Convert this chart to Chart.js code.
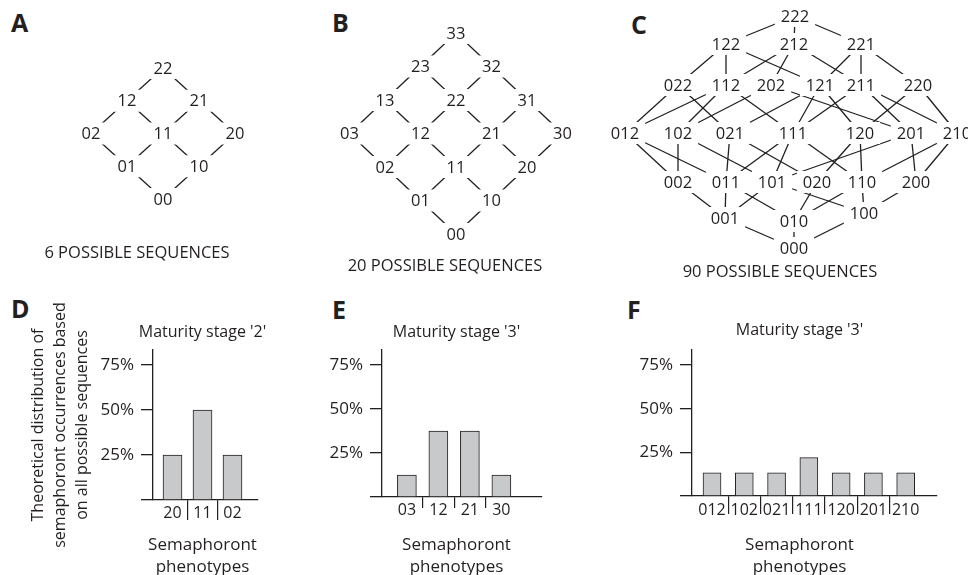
<!DOCTYPE html>
<html>
<head>
<meta charset="utf-8">
<title>Semaphoront sequences</title>
<script src="https://cdn.jsdelivr.net/npm/chart.js@4.4.1/dist/chart.umd.min.js"></script>
<style>
  html, body { margin: 0; padding: 0; background: #fff; }
  body { width: 968px; height: 575px; position: relative; overflow: hidden;
         font-family: 'Open Sans', sans-serif; color: #231f20; }
  canvas { position: absolute; }
  .tag { position: absolute; font: 700 25px 'Open Sans', sans-serif; line-height: 1; }
  .cap { position: absolute; font-size: 16.5px; line-height: 1; white-space: nowrap;
         transform: translate(-50%, -50%); }
</style>
</head>
<body>
<div class="tag" style="left:11px;top:10px">A</div>
<div class="tag" style="left:332px;top:10px">B</div>
<div class="tag" style="left:631px;top:12px">C</div>
<div class="tag" style="left:11px;top:296px">D</div>
<div class="tag" style="left:332px;top:297px">E</div>
<div class="tag" style="left:627px;top:297px">F</div>

<canvas id="latA" width="320" height="245" style="left:0;top:0"></canvas>
<canvas id="latB" width="280" height="250" style="left:320px;top:0"></canvas>
<canvas id="latC" width="368" height="262" style="left:600px;top:0"></canvas>

<div class="cap" style="left:137px;top:252px">6 POSSIBLE SEQUENCES</div>
<div class="cap" style="left:445px;top:265px">20 POSSIBLE SEQUENCES</div>
<div class="cap" style="left:780px;top:271px">90 POSSIBLE SEQUENCES</div>

<canvas id="barD" width="405" height="290" style="left:0;top:290px"></canvas>
<canvas id="barE" width="253" height="290" style="left:330px;top:290px"></canvas>
<canvas id="barF" width="359" height="290" style="left:620px;top:290px"></canvas>

<script>
const INK = '#231f20';
const BAR_FILL = '#c8c9cb';
const FONT = "'Open Sans', sans-serif";

// ---- lattice A: two characters, states 0..2 ----
const nodesA = ['00', '01', '10', '02', '11', '20', '12', '21', '22'];
const colA = [0, -1, 1, -2, 0, 2, -1, 1, 0];
const rowA = [0, 1, 1, 2, 2, 2, 3, 3, 4];
const edgesA = ['00-01', '00-10', '01-02', '01-11', '10-11', '10-20',
  '02-12', '11-12', '11-21', '20-21', '12-22', '21-22'];

// ---- lattice B: two characters, states 0..3 ----
const nodesB = ['00', '01', '10', '02', '11', '20', '03', '12', '21', '30',
  '13', '22', '31', '23', '32', '33'];
const colB = [0, -1, 1, -2, 0, 2, -3, -1, 1, 3, -2, 0, 2, -1, 1, 0];
const rowB = [0, 1, 1, 2, 2, 2, 3, 3, 3, 3, 4, 4, 4, 5, 5, 6];
const edgesB = ['00-01', '00-10', '01-02', '01-11', '10-11', '10-20',
  '02-03', '02-12', '11-12', '11-21', '20-21', '20-30',
  '03-13', '12-13', '12-22', '21-22', '21-31', '30-31',
  '13-23', '22-23', '22-32', '31-32', '23-33', '32-33'];

// ---- lattice C: three characters, states 0..2 (positions) ----
const nodesC = ['000', '001', '010', '100', '002', '011', '101', '020', '110', '200',
  '012', '102', '021', '111', '120', '201', '210',
  '022', '112', '202', '121', '211', '220', '122', '212', '221', '222'];
const xC = [0, -69, 0, 70, -116, -68, -22, 23, 68, 122,
  -169, -116, -64, -1, 66, 117, 163,
  -116, -68, -23, 26, 67, 124, -68, 0, 67, 1];
const yC = [0, 30, 27, 35, 66, 66, 66, 66, 66, 66,
  115, 115, 115, 115, 115, 115, 115,
  163, 163, 163, 163, 163, 163, 204, 204, 204, 232];
const edgesC = ['000-001', '000-010', '000-100',
  '001-002', '001-011', '001-101', '010-011', '010-020', '010-110', '100-101', '100-110', '100-200',
  '002-012', '002-102', '011-012', '011-021', '011-111', '101-102', '101-111', '101-201',
  '020-021', '020-120', '110-111', '110-120', '110-210', '200-201', '200-210',
  '012-022', '012-112', '102-112', '102-202', '021-022', '021-121', '111-112', '111-121',
  '111-211', '120-121', '120-220', '201-202', '201-211', '210-211', '210-220',
  '022-122', '112-122', '112-212', '202-212', '121-122', '121-221', '211-212', '211-221', '220-221',
  '122-222', '212-222', '221-222'];

// ---- bar charts ----
const yTicks = [0, 25, 50, 75];
const catsD = ['20', '11', '02'];
const valsD = [25, 50, 25];
const catsE = ['03', '12', '21', '30'];
const valsE = [12.5, 37.5, 37.5, 12.5];
const catsF = ['012', '102', '021', '111', '120', '201', '210'];
const valsF = [13.3, 13.3, 13.3, 22, 13.3, 13.3, 13.3];

Chart.defaults.font.family = FONT;
Chart.defaults.color = INK;

// white-boxed node names on top of the edges
const nodeLabels = {
  id: 'nodeLabels',
  afterDatasetsDraw(chart) {
    const idx = chart.data.datasets.findIndex(d => d.nodeLayer);
    const ds = chart.data.datasets[idx];
    const meta = chart.getDatasetMeta(idx);
    const ctx = chart.ctx;
    ctx.save();
    ctx.font = '16.5px ' + FONT;
    ctx.textAlign = 'center';
    ctx.textBaseline = 'middle';
    meta.data.forEach((pt, i) => {
      const name = ds.data[i].name;
      const w = ctx.measureText(name).width;
      ctx.fillStyle = '#fff';
      ctx.fillRect(pt.x - w / 2 - 6, pt.y - 11, w + 12, 22);
      ctx.fillStyle = INK;
      ctx.fillText(name, pt.x, pt.y + 1);
    });
    ctx.restore();
  }
};

function lattice(id, nodes, xs, ys, edges, frame) {
  const canvas = document.getElementById(id);
  const W = canvas.width, H = canvas.height;
  const pos = {};
  nodes.forEach((n, i) => { pos[n] = {x: xs[i], y: ys[i]}; });

  const datasets = edges.map(e => {
    const [a, b] = e.split('-');
    return {data: [pos[a], pos[b]], showLine: true, borderColor: INK,
      borderWidth: 1.3, pointRadius: 0};
  });
  datasets.push({
    data: nodes.map((n, i) => ({x: xs[i], y: ys[i], name: n})),
    showLine: false, pointRadius: 0, nodeLayer: true
  });

  new Chart(canvas, {
    type: 'scatter',
    data: {datasets},
    options: {
      animation: false, responsive: false, events: [],
      layout: {padding: 0},
      plugins: {legend: {display: false}, tooltip: {enabled: false}},
      scales: {
        x: {display: false, min: -frame.x0 / frame.ux, max: (W - frame.x0) / frame.ux},
        y: {display: false, min: -(H - frame.y0) / frame.uy, max: frame.y0 / frame.uy}
      }
    },
    plugins: [nodeLabels]
  });
}

lattice('latA', nodesA, colA, rowA, edgesA, {x0: 163, y0: 199, ux: 36, uy: 32.75});
lattice('latB', nodesB, colB, rowB, edgesB, {x0: 136, y0: 234, ux: 35.5, uy: 33.5});
lattice('latC', nodesC, xC, yC, edgesC, {x0: 194, y0: 248, ux: 1, uy: 1});

// page-pixel layout of each bar panel
function bars(id, title, cats, vals, L) {
  const canvas = document.getElementById(id);
  const left = parseFloat(canvas.style.left), top = parseFloat(canvas.style.top);
  const W = canvas.width, H = canvas.height;
  const pxPerPct = (L.zeroY - L.y75) / 75;
  const subPad = {top: 8, bottom: 2};
  const subBoxTop = top + H - subPad.bottom - 44 - subPad.top;

  const yScale = {
    min: 0, max: (L.zeroY - L.plotTop) / pxPerPct,
    afterBuildTicks: s => { s.ticks = yTicks.map(v => ({value: v})); },
    afterFit: s => { s.width = L.plotLeft - left; },
    grid: {drawOnChartArea: false, tickLength: 12, color: INK, lineWidth: 1.3},
    border: {color: INK, width: 1.3},
    ticks: {padding: 7, font: {size: 17}, color: INK,
      callback: v => (v === 0 ? '' : v + '%')}
  };
  if (L.yTitle) {
    yScale.title = {display: true, text: L.yTitle, color: INK,
      font: {size: 16, lineHeight: 1.375}, padding: {top: 27, bottom: 0}};
  }

  new Chart(canvas, {
    type: 'bar',
    data: {
      datasets: [{
        data: cats.map((c, i) => ({x: i, y: vals[i]})),
        backgroundColor: BAR_FILL, borderColor: INK, borderWidth: 1,
        barThickness: L.barW
      }]
    },
    options: {
      animation: false, responsive: false, events: [],
      layout: {padding: 0},
      plugins: {
        legend: {display: false}, tooltip: {enabled: false},
        title: {display: true, text: title, color: INK, font: {size: 16, weight: 'normal'},
          padding: {top: L.titleY - top - 9.6, bottom: L.plotTop - L.titleY - 9.6}},
        subtitle: {display: true, position: 'bottom', text: ['Semaphoront', 'phenotypes'],
          color: INK, font: {size: 17, lineHeight: 22 / 17}, padding: subPad}
      },
      scales: {
        x: {
          type: 'linear', offset: false, min: L.xMin, max: L.xMax,
          afterBuildTicks: s => { s.ticks = cats.map((c, i) => ({value: i})); },
          afterFit: s => { s.height = subBoxTop - L.zeroY; },
          grid: {offset: true, drawOnChartArea: false, tickLength: L.sepLen, lineWidth: 1.2,
            color: c => (c.type !== 'tick' || c.index === 0) ? 'rgba(0,0,0,0)' : INK},
          border: {color: INK, width: 1.3},
          ticks: {autoSkip: false, maxRotation: 0, font: {size: 16}, color: INK,
            padding: L.labelY - L.zeroY - L.sepLen - 9.6,
            callback: v => cats[v]}
        },
        y: yScale,
        spacer: {
          position: 'right', display: true,
          grid: {display: false}, ticks: {display: false}, border: {display: false},
          afterFit: s => { s.width = left + W - L.plotRight; }
        }
      }
    }
  });
}

bars('barD', "Maturity stage '2'", catsD, valsD, {
  plotLeft: 153, plotRight: 258, plotTop: 350, zeroY: 500, y75: 365,
  xMin: -0.65, xMax: 2.85, barW: 19, sepLen: 20, labelY: 513, titleY: 332,
  yTitle: ['Theoretical distribution of', 'semaphoront occurrences based', 'on all possible sequences']
});
bars('barE', "Maturity stage '3'", catsE, valsE, {
  plotLeft: 382, plotRight: 542, plotTop: 350, zeroY: 497, y75: 365,
  xMin: -0.79, xMax: 4.29, barW: 19, sepLen: 11, labelY: 510, titleY: 332
});
bars('barF', "Maturity stage '3'", catsF, valsF, {
  plotLeft: 692, plotRight: 937, plotTop: 350, zeroY: 496, y75: 365,
  xMin: -0.62, xMax: 6.97, barW: 18, sepLen: 18, labelY: 510, titleY: 330
});
</script>
</body>
</html>
